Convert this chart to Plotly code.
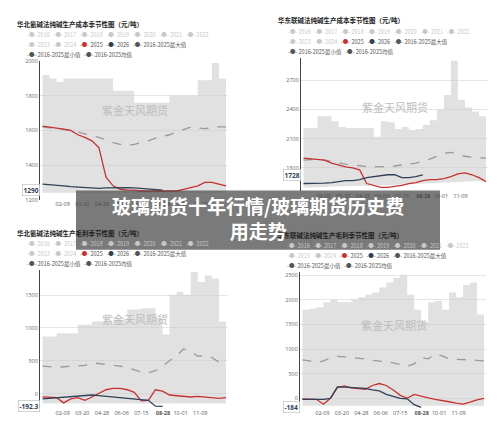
import plotly.graph_objects as go

days = [0, 14, 28, 42, 56, 70, 84, 98, 112, 126, 140, 154, 168, 182, 196, 210,
        224, 238, 252, 266, 280, 294, 308, 322, 336, 350, 364]
tick_days = [40, 79, 118, 157, 196, 239, 274, 313]
tick_text = ["02-09", "03-20", "04-28", "06-06", "07-15", "<b>08-28</b>", "10-01", "11-09"]

# 华北氨碱法纯碱生产成本
tl_max = [1920, 1900, 1880, 1900, 1900, 1900, 1900, 1900, 1900, 1900, 1830, 1830, 1830, 1760,
          1760, 1760, 1760, 1760, 1800, 1800, 1800, 1800, 1890, 1890, 1990, 1900, 1900]
tl_min = [1240] * 27
tl_mean = [1620, 1615, 1610, 1605, 1600, 1590, 1580, 1570, 1560, 1545, 1530, 1520, 1515, 1520,
           1530, 1540, 1555, 1565, 1575, 1590, 1605, 1620, 1615, 1610, 1615, 1620, 1620]
tl_2025 = [1625, 1620, 1612, 1608, 1600, 1575, 1560, 1540, 1500, 1330, 1280, 1260, 1255, 1255,
           1250, 1250, 1250, 1250, 1250, 1250, 1260, 1270, 1280, 1300, 1300, 1290, 1280]
tl_2026 = [1290, 1288, 1285, 1280, 1275, 1272, 1268, 1265, 1265, 1268, 1270, 1272, 1270, 1268,
           1265, 1262, 1260, 1255]

# 华东联碱法纯碱生产成本
tr_max = [2210, 2210, 2330, 2330, 2280, 2220, 2210, 2210, 2210, 2210, 2120, 2280, 2270, 2200,
          2220, 2190, 2200, 2240, 2290, 2400, 2550, 2900, 2500, 2420, 2380, 2330, 2280]
tr_min = [1600, 1600, 1605, 1605, 1610, 1610, 1610, 1615, 1615, 1620, 1620, 1620, 1625, 1625,
          1630, 1630, 1635, 1640, 1640, 1645, 1650, 1650, 1655, 1660, 1660, 1665, 1670]
tr_mean = [1880, 1885, 1890, 1880, 1865, 1850, 1840, 1830, 1820, 1815, 1810, 1810, 1815, 1820,
           1830, 1840, 1850, 1870, 1890, 1920, 1950, 1960, 1940, 1920, 1910, 1905, 1900]
tr_2025 = [1900, 1895, 1890, 1880, 1850, 1830, 1810, 1800, 1780, 1640, 1620, 1600, 1600, 1610,
           1620, 1640, 1650, 1670, 1680, 1680, 1690, 1710, 1740, 1750, 1730, 1700, 1660]
tr_2026 = [1640, 1640, 1645, 1645, 1650, 1660, 1670, 1670, 1680, 1700, 1710, 1720, 1730, 1730,
           1700, 1700, 1710, 1728]

# 华北氨碱法纯碱生产毛利
bl_max = [870, 870, 920, 920, 920, 1050, 1050, 1100, 1100, 1080, 1130, 1130, 1280, 1280,
          1300, 1300, 1150, 900, 1500, 1550, 1500, 1850, 1700, 1800, 1750, 1100, 1100]
bl_min = [-150] * 27
bl_mean = [420, 410, 400, 410, 420, 425, 430, 470, 460, 440, 430, 420, 400, 370,
           330, 320, 350, 420, 500, 580, 680, 650, 570, 580, 550, 480, 450]
bl_2025 = [-50, -55, -60, -140, -80, -60, -100, -50, 0, 60, 80, 80, 60, 20,
           -110, -100, 60, 40, -20, -30, -30, -50, -40, -50, -70, -70, -60]
bl_2026 = [-80, -70, -60, -50, -40, -30, -20, -20, -30, -40, -50, -60, -70, -80,
           -100, -100, -190, -192.3]

# 华东联碱法纯碱生产毛利
br_max = [1800, 1820, 1850, 1950, 2000, 1950, 1950, 2000, 2050, 2100, 2150, 2250, 2350, 2450,
          2500, 2100, 1800, 1550, 1950, 1980, 1800, 2150, 2050, 2300, 2350, 1700, 1600]
br_min = [-150] * 27
br_mean = [780, 760, 720, 760, 820, 850, 840, 830, 820, 800, 770, 760, 740, 720,
           680, 650, 700, 830, 800, 900, 860, 800, 790, 790, 780, 770, 760]
br_2025 = [-10, -15, -20, -120, 0, 220, 250, 210, 200, 180, 260, 300, 260, 170,
           60, 0, 80, 40, 10, -20, -40, -70, -100, -120, -80, -30, 0]
br_2026 = [-20, -25, -30, -20, 0, 230, 225, 220, 210, 200, 170, 150, 80, 40,
           0, -10, -130, -184]

panels = [
    dict(title="华北氨碱法纯碱生产成本季节性图（元/吨）", mx=tl_max, mn=tl_min, mean=tl_mean,
         y25=tl_2025, y26=tl_2026, last="1290", rng=[1200, 2000], dtick=200,
         xd=[0.064, 0.44], yd=[0.55, 0.882], ax=""),
    dict(title="华东联碱法纯碱生产成本季节性图（元/吨）", mx=tr_max, mn=tr_min, mean=tr_mean,
         y25=tr_2025, y26=tr_2026, last="1728", rng=[1560, 2930], dtick=300,
         xd=[0.586, 0.96], yd=[0.57, 0.89], ax="2"),
    dict(title="华北氨碱法纯碱生产毛利季节性图（元/吨）", mx=bl_max, mn=bl_min, mean=bl_mean,
         y25=bl_2025, y26=bl_2026, last="-192.3", rng=[-220, 1880], dtick=500,
         xd=[0.064, 0.44], yd=[0.05, 0.381], ax="3"),
    dict(title="华东联碱法纯碱生产毛利季节性图（元/吨）", mx=br_max, mn=br_min, mean=br_mean,
         y25=br_2025, y26=br_2026, last="-184", rng=[-200, 2560], dtick=500,
         xd=[0.584, 0.956], yd=[0.05, 0.376], ax="4"),
]

fig = go.Figure()
font = "Noto Sans CJK SC"
ann = []
for p in panels:
    xa, ya = "x" + p["ax"], "y" + p["ax"]
    fig.add_trace(go.Scatter(x=days, y=p["mn"], xaxis=xa, yaxis=ya, mode="lines",
                             line=dict(width=0), showlegend=False))
    fig.add_trace(go.Scatter(x=days, y=p["mx"], xaxis=xa, yaxis=ya, mode="lines",
                             line=dict(width=0, shape="hv"), fill="tonexty",
                             fillcolor="rgba(200,200,200,0.55)", showlegend=False))
    fig.add_trace(go.Scatter(x=days, y=p["mean"], xaxis=xa, yaxis=ya, mode="lines",
                             line=dict(color="#999999", width=1.3, dash="dash"), showlegend=False))
    fig.add_trace(go.Scatter(x=days, y=p["y25"], xaxis=xa, yaxis=ya, mode="lines",
                             line=dict(color="#c8312e", width=1.3), showlegend=False))
    fig.add_trace(go.Scatter(x=days[:len(p["y26"])], y=p["y26"], xaxis=xa, yaxis=ya, mode="lines",
                             line=dict(color="#2e4057", width=1.3), showlegend=False))
    k = p["ax"]
    fig.layout["xaxis" + k] = dict(domain=p["xd"], anchor=ya, range=[-5, 368], tickangle=0,
                                   tickvals=tick_days, ticktext=tick_text, showgrid=False,
                                   tickfont=dict(size=5.5, color="#555"), zeroline=False)
    fig.layout["yaxis" + k] = dict(domain=p["yd"], anchor=xa, range=p["rng"], dtick=p["dtick"],
                                   showline=True, linecolor="#444", gridcolor="#e6e6e6",
                                   tickfont=dict(size=5.5, color="#666"), zeroline=False)
    x0, x1 = p["xd"]
    y1 = p["yd"][1]
    ann.append(dict(xref="paper", yref="paper", x=x0 - 0.05, y=y1 + 0.09, xanchor="left",
                    yanchor="middle", showarrow=False, text="<b>" + p["title"] + "</b>",
                    font=dict(size=6.5, color="#222", family=font)))
    g = "<span style='color:#c8c8c8'>-●- "
    row1 = "   ".join(g + str(y) + "</span>" for y in range(2016, 2023))
    row2 = (g + "2023</span>   " + g + "2024</span>   <span style='color:#c8312e'>-●-</span> 2025   "
            "<span style='color:#2e4057'>-●-</span> 2026   <span style='color:#555'>-●-</span> 2016-2025最大值")
    row3 = "<span style='color:#555'>-●-</span> 2016-2025最小值   <span style='color:#555'>-●-</span> 2016-2025均值"
    for i, r in enumerate([row1, row2, row3]):
        ann.append(dict(xref="paper", yref="paper", x=x0 - 0.03, y=y1 + 0.062 - i * 0.024,
                        xanchor="left", yanchor="middle", showarrow=False, text=r,
                        font=dict(size=5.5, color="#555", family=font)))
    ann.append(dict(xref="x" + k, yref="y" + k, x=183, y=(p["rng"][0] + p["rng"][1]) / 2 + p["dtick"] * 0.6,
                    showarrow=False, text="紫金天风期货", font=dict(size=11, color="#bdbdbd", family=font)))
    ann.append(dict(xref="paper", yref="y" + k, x=x0, y=p["y26"][-1], xanchor="right",
                    showarrow=False, text="<b>" + p["last"] + "</b>", bgcolor="white",
                    bordercolor="#aaa", borderwidth=0.5, borderpad=1,
                    font=dict(size=6.5, color="#2e4057")))

ann.append(dict(xref="paper", yref="paper", x=0.5, y=0.505, showarrow=False,
                text="<b>玻璃期货十年行情/玻璃期货历史费<br>用走势</b>",
                font=dict(size=19, color="white", family=font)))
fig.update_layout(
    width=500, height=425, margin=dict(l=0, r=0, t=0, b=0),
    paper_bgcolor="white", plot_bgcolor="white", annotations=ann,
    shapes=[dict(type="rect", xref="paper", yref="paper", x0=0.136, x1=0.864, y0=0.43, y1=0.572,
                 fillcolor="rgba(70,70,70,0.72)", line=dict(width=0), layer="above")],
)
fig.write_html("out.html")
